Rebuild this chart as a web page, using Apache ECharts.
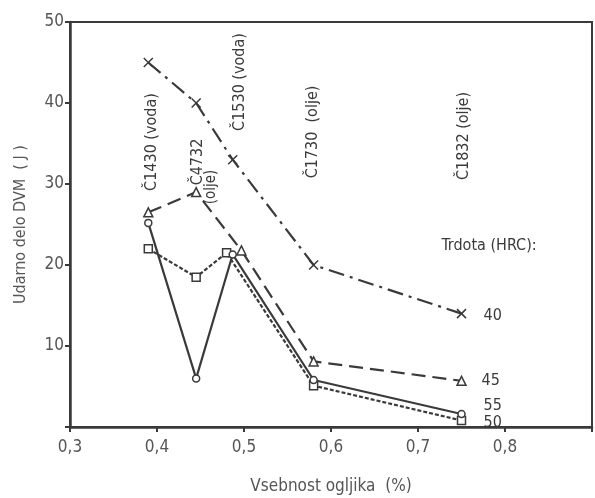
<!DOCTYPE html>
<html>
<head>
<meta charset="utf-8">
<script src="https://cdn.jsdelivr.net/npm/echarts@6/dist/echarts.min.js"></script>
<style>html,body{margin:0;padding:0;background:#fff}#c{width:595px;height:498px}</style>
</head>
<body>
<div id="c"></div>
<script>
var xTicks = [0.3, 0.4, 0.5, 0.6, 0.7, 0.8];
var yTicks = [10, 20, 30, 40, 50];
var seriesNames = ['40', '45', '50', '55'];
var hrc40 = [[0.39, 45], [0.445, 40], [0.487, 33], [0.58, 20], [0.75, 14]];
var hrc45 = [[0.39, 26.5], [0.445, 29], [0.497, 21.8], [0.58, 8.1], [0.75, 5.7]];
var hrc50 = [[0.39, 22], [0.445, 18.5], [0.48, 21.5], [0.58, 5.1], [0.75, 0.8]];
var hrc55 = [[0.39, 25.2], [0.445, 6], [0.487, 21.3], [0.58, 5.8], [0.75, 1.6]];
var steelLabels = ['Č1430 (voda)', 'Č4732', '(olje)', 'Č1530 (voda)', 'Č1730  (olje)', 'Č1832 (olje)'];

var ink = '#3a3a3a';
var F = 'DejaVu Sans Condensed, DejaVu Sans, sans-serif';
var chart = echarts.init(document.getElementById('c'), null, {renderer: 'canvas'});
var crossPath = 'path://M0,0L10,10M10,0L0,10';

function mk(name, data, symbol, dash, labelOffset) {
  return {
    name: name, type: 'line', data: data, symbol: symbol,
    symbolSize: symbol === 'rect' ? 8 : (symbol === 'circle' ? 7 : 9),
    showAllSymbol: true,
    lineStyle: {color: ink, width: 2.2, type: dash},
    itemStyle: {color: symbol === crossPath ? 'transparent' : '#fff', borderColor: ink, borderWidth: 1.5},
    endLabel: {show: true, formatter: name, color: ink, fontFamily: F, fontSize: 16, offset: labelOffset},
    z: 3, animation: false
  };
}

chart.setOption({
  animation: false,
  grid: {left: 70, right: 3, top: 22, bottom: 71, show: true, borderColor: ink, borderWidth: 2,
    containLabel: false, outerBoundsMode: 'none'},
  xAxis: {
    type: 'value', min: 0.3, max: 0.9, interval: 0.1,
    axisLine: {show: true, lineStyle: {color: ink, width: 2.5}},
    axisTick: {show: true, length: 5, lineStyle: {color: ink, width: 2}},
    splitLine: {show: false},
    axisLabel: {color: '#555', fontFamily: F, fontSize: 17, margin: 12,
      formatter: function (v) { var r = Math.round(v * 10) / 10; return xTicks.indexOf(r) >= 0 ? r.toFixed(1).replace('.', ',') : ''; }},
    name: 'Vsebnost ogljika  (%)', nameLocation: 'middle', nameGap: 51,
    nameTextStyle: {color: '#555', fontFamily: F, fontSize: 17}
  },
  yAxis: {
    type: 'value', min: 0, max: 50, interval: 10,
    axisLine: {show: true, lineStyle: {color: ink, width: 2.5}},
    axisTick: {show: true, length: 5, lineStyle: {color: ink, width: 2}},
    splitLine: {show: false},
    axisLabel: {color: '#555', fontFamily: F, fontSize: 17, margin: 6,
      formatter: function (v) { return yTicks.indexOf(v) >= 0 ? String(v) : ''; }},
    name: 'Udarno delo DVM  ( J )', nameLocation: 'middle', nameGap: 41,
    nameTextStyle: {color: '#555', fontFamily: F, fontSize: 16}
  },
  graphic: [
    {type: 'text', x: 152, y: 142, rotation: Math.PI / 2, style: {text: steelLabels[0], fill: ink, font: '16px ' + F, textAlign: 'center', textVerticalAlign: 'middle'}},
    {type: 'text', x: 198, y: 162, rotation: Math.PI / 2, style: {text: steelLabels[1], fill: ink, font: '16px ' + F, textAlign: 'center', textVerticalAlign: 'middle'}},
    {type: 'text', x: 211, y: 187, rotation: Math.PI / 2, style: {text: steelLabels[2], fill: ink, font: '15px ' + F, textAlign: 'center', textVerticalAlign: 'middle'}},
    {type: 'text', x: 240, y: 82, rotation: Math.PI / 2, style: {text: steelLabels[3], fill: ink, font: '16px ' + F, textAlign: 'center', textVerticalAlign: 'middle'}},
    {type: 'text', x: 313, y: 132, rotation: Math.PI / 2, style: {text: steelLabels[4], fill: ink, font: '16px ' + F, textAlign: 'center', textVerticalAlign: 'middle'}},
    {type: 'text', x: 464, y: 136, rotation: Math.PI / 2, style: {text: steelLabels[5], fill: ink, font: '16px ' + F, textAlign: 'center', textVerticalAlign: 'middle'}},
    {type: 'text', x: 489, y: 246, style: {text: 'Trdota (HRC):', fill: ink, font: '16px ' + F, textAlign: 'center', textVerticalAlign: 'middle'}}
  ],
  series: [
    mk(seriesNames[0], hrc40, crossPath, [16, 6, 3, 6], [14, 2]),
    mk(seriesNames[1], hrc45, 'triangle', [14, 7], [12, 0]),
    mk(seriesNames[2], hrc50, 'rect', [4, 2], [14, 2]),
    mk(seriesNames[3], hrc55, 'circle', 'solid', [14, -8])
  ]
});
</script>
</body>
</html>
